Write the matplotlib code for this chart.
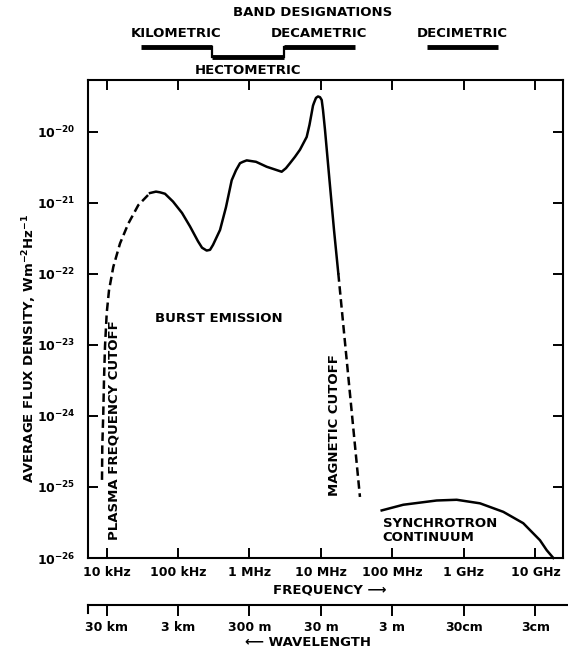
import numpy as np
import matplotlib
matplotlib.use("Agg")
import matplotlib.pyplot as plt
from matplotlib.ticker import NullLocator, FixedLocator
import matplotlib.transforms as mtrans

plt.rcParams['font.family'] = ['DejaVu Sans']
plt.rcParams['font.weight'] = 'bold'
plt.rcParams['mathtext.fontset'] = 'dejavusans'
plt.rcParams['mathtext.default'] = 'bf'

# --- data (log10 frequency [Hz], log10 flux density [W m^-2 Hz^-1]) ---
plasma_logf = [3.937, 3.941, 3.955, 3.965, 3.979, 4.003, 4.035, 4.095, 4.189, 4.305, 4.445, 4.608]
plasma_logs = [-24.90, -24.43, -23.96, -23.49, -23.02, -22.55, -22.23, -21.90, -21.57, -21.29, -21.03, -20.86]

burst_logf = [4.608, 4.692, 4.748, 4.818, 4.930, 5.056, 5.168, 5.280, 5.336, 5.401, 5.448,
              5.490, 5.588, 5.671, 5.751, 5.811, 5.867, 5.909, 5.961, 6.091, 6.241, 6.450,
              6.510, 6.566, 6.636, 6.706, 6.800, 6.839, 6.870, 6.888, 6.902, 6.930, 6.958,
              6.986, 7.010, 7.028, 7.056, 7.119, 7.182, 7.242]
burst_logs = [-20.86, -20.84, -20.85, -20.87, -20.98, -21.14, -21.33, -21.54, -21.63, -21.67, -21.66,
              -21.59, -21.38, -21.06, -20.68, -20.54, -20.44, -20.42, -20.40, -20.42, -20.49, -20.56,
              -20.51, -20.44, -20.35, -20.25, -20.07, -19.90, -19.73, -19.63, -19.59, -19.52, -19.50,
              -19.51, -19.55, -19.69, -19.97, -20.68, -21.38, -21.99]

magnetic_logf = [7.242, 7.545]
magnetic_logs = [-21.99, -25.14]

synch_logf = [7.849, 8.151, 8.618, 8.898, 9.224, 9.550, 9.829, 10.063, 10.157, 10.25]
synch_logs = [-25.33, -25.25, -25.19, -25.18, -25.23, -25.35, -25.51, -25.75, -25.89, -26.0]

freq_ticks = [1e4, 1e5, 1e6, 1e7, 1e8, 1e9, 1e10]
freq_labels = ['10 kHz', '100 kHz', '1 MHz', '10 MHz', '100 MHz', '1 GHz', '10 GHz']
wave_labels = ['30 km', '3 km', '300 m', '30 m', '3 m', '30cm', '3cm']
flux_ticks = [1e-26, 1e-25, 1e-24, 1e-23, 1e-22, 1e-21, 1e-20]
flux_labels = [r'$10^{-26}$', r'$10^{-25}$', r'$10^{-24}$', r'$10^{-23}$',
               r'$10^{-22}$', r'$10^{-21}$', r'$10^{-20}$']

# band designations: name, low freq, high freq (Hz)
band_names = ['KILOMETRIC', 'HECTOMETRIC', 'DECAMETRIC', 'DECIMETRIC']
band_lo = [3e4, 3e5, 3e6, 3e8]
band_hi = [3e5, 3e6, 3e7, 3e9]
band_lowered = [False, True, False, False]

W, H = 568, 651
fig = plt.figure(figsize=(W / 100, H / 100), dpi=100)
ax = fig.add_axes([87.7 / W, 93 / H, 475.3 / W, 478 / H])
ax.set_xscale('log')
ax.set_yscale('log')
ax.set_xlim(10 ** 3.737, 10 ** 10.385)
ax.set_ylim(1e-26, 10 ** -19.268)

lw = 1.8
def p(v):
    return 10 ** np.array(v)

ax.plot(p(plasma_logf), p(plasma_logs), color='black', lw=lw, dashes=(3.4, 1.8))
ax.plot(p(burst_logf), p(burst_logs), color='black', lw=lw, solid_joinstyle='round')
ax.plot(p(magnetic_logf), p(magnetic_logs), color='black', lw=lw, dashes=(3.4, 1.8))
ax.plot(p(synch_logf), p(synch_logs), color='black', lw=lw, clip_on=False)

ax.xaxis.set_major_locator(FixedLocator(freq_ticks))
ax.xaxis.set_minor_locator(NullLocator())
ax.set_xticklabels(freq_labels)
ax.yaxis.set_major_locator(FixedLocator(flux_ticks))
ax.yaxis.set_minor_locator(NullLocator())
ax.set_yticklabels(flux_labels)
ax.tick_params(direction='in', length=7, width=1.4, top=True, right=True, labelsize=9)
ax.tick_params(axis='x', pad=6)
ax.tick_params(axis='y', pad=9)
for s in ax.spines.values():
    s.set_linewidth(1.5)

# wavelength scale below
ax2 = fig.add_axes([87.7 / W, (H - 613) / H, (W - 87.7) / W, 8 / H])
ax2.set_xscale('log')
x0, x1 = ax.get_xlim()
ax2.set_xlim(x0, 10 ** (np.log10(x0) + (np.log10(x1) - np.log10(x0)) * (W - 87.7) / 475.3))
ax2.xaxis.set_major_locator(FixedLocator(freq_ticks))
ax2.xaxis.set_minor_locator(NullLocator())
ax2.set_xticklabels(wave_labels)
ax2.set_yticks([])
ax2.spines['bottom'].set_visible(False)
ax2.spines['right'].set_visible(False)
ax2.spines['top'].set_linewidth(1.5)
ax2.spines['left'].set_linewidth(1.5)
ax2.tick_params(axis='x', direction='in', top=True, bottom=False, labelbottom=True,
                length=8, width=1.4, labelsize=9, pad=6)
ax2.patch.set_visible(False)

# band designation bars
trans = mtrans.blended_transform_factory(ax.transData, ax.transAxes)
y_hi, y_lo = 1.069, 1.048
for i, name in enumerate(band_names):
    y = y_lo if band_lowered[i] else y_hi
    ax.plot([band_lo[i], band_hi[i]], [y, y], color='black', lw=3.5, transform=trans,
            clip_on=False, solid_capstyle='butt')
    xc = np.sqrt(band_lo[i] * band_hi[i])
    if band_lowered[i]:
        ax.text(xc, 1.019, name, transform=trans, ha='center', va='center', fontsize=9.5)
        ax.plot([band_lo[i], band_lo[i]], [y_lo, y_hi], color='black', lw=1.6,
                transform=trans, clip_on=False)
        ax.plot([band_hi[i], band_hi[i]], [y_lo, y_hi], color='black', lw=1.6,
                transform=trans, clip_on=False)
    else:
        ax.text(xc, 1.098, name, transform=trans, ha='center', va='center', fontsize=9.5)

fig.text(313 / W, 1 - 13 / H, 'BAND DESIGNATIONS', ha='center', va='center', fontsize=9.5)

# annotations
ax.text(0.1416, 0.500, 'BURST EMISSION', transform=ax.transAxes, ha='left', va='center',
        fontsize=9.5)
ax.text(0.0553, 0.268, 'PLASMA FREQUENCY CUTOFF', transform=ax.transAxes, ha='center',
        va='center', rotation=90, fontsize=9.5)
ax.text(0.520, 0.278, 'MAGNETIC CUTOFF', transform=ax.transAxes, ha='center',
        va='center', rotation=90, fontsize=9.5)
ax.text(0.621, 0.0575, 'SYNCHROTRON\nCONTINUUM', transform=ax.transAxes, ha='left',
        va='center', fontsize=9.5, linespacing=1.15)

fig.text(273 / W, 1 - 590 / H, 'FREQUENCY \u27f6', ha='left', va='center', fontsize=9.5)
fig.text(245 / W, 1 - 643 / H, '\u27f5 WAVELENGTH', ha='left', va='center', fontsize=9.5)
fig.text(30 / W, 1 - 348 / H, r'AVERAGE FLUX DENSITY, Wm$^{-2}$Hz$^{-1}$', rotation=90,
         ha='center', va='center', fontsize=9.5)

fig.savefig('out.png', dpi=100)
